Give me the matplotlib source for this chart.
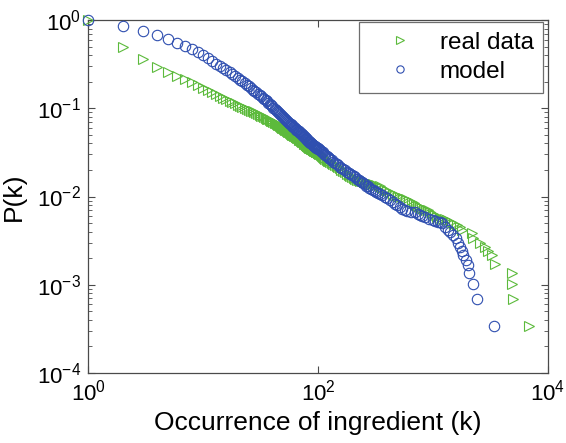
import numpy as np
import matplotlib
matplotlib.use("Agg")
import matplotlib.pyplot as plt
from matplotlib.ticker import LogLocator, NullLocator, NullFormatter

plt.rcParams['font.family'] = ['Liberation Sans', 'DejaVu Sans']
plt.rcParams['mathtext.fontset'] = 'custom'
plt.rcParams['mathtext.rm'] = 'Liberation Sans'
plt.rcParams['mathtext.it'] = 'Liberation Sans'

# real data (green triangles)
real_k = [1, 2, 3, 4, 5, 6, 7, 8, 9, 10, 11, 12, 13, 14, 15, 16, 17, 18, 19,
          20, 21, 22, 23, 24, 25, 26, 27, 28, 29, 30, 31, 32, 33, 34, 35, 36, 37, 38, 39,
          40, 41, 42, 43, 44, 45, 46, 47, 48, 49, 50, 51, 52, 53, 54, 55, 56, 57, 58, 59,
          60, 61, 62, 63, 64, 65, 66, 67, 68, 69, 70, 71, 72, 73, 74, 75, 76, 77, 78, 79,
          80, 81, 82, 83, 84, 85, 86, 87, 88, 89, 90, 91, 92, 93, 94, 95, 96, 97, 98, 99,
          100, 102, 104, 106, 108, 110, 113, 116, 119, 122, 125, 128, 132, 136, 140,
          145, 150, 155, 160, 166, 172, 178, 185, 191, 197, 204, 210, 218, 225, 232,
          240, 250, 260, 270, 280, 290, 300, 320, 346, 363, 380, 400, 423, 445, 470,
          495, 517, 545, 580, 620, 657, 685, 710, 740, 771, 805, 840, 870, 905, 945,
          990, 1040, 1084, 1140, 1200, 1260, 1324, 1420, 1520, 1610, 1717, 1787, 2183,
          2228, 2563, 2832, 3007, 3258, 3461, 4864, 4900, 4966, 6834]
real_p = [1.0, 0.50, 0.36, 0.29, 0.26, 0.235, 0.215, 0.20, 0.185, 0.17, 0.16, 0.152,
          0.145, 0.138, 0.132, 0.127, 0.122, 0.118, 0.114,
          0.110, 0.107, 0.104, 0.101, 0.099, 0.096, 0.094, 0.092, 0.090, 0.088,
          0.086, 0.0843, 0.0826, 0.081, 0.0795, 0.078, 0.0765, 0.075, 0.0735, 0.0722,
          0.071, 0.0697, 0.0685, 0.0673, 0.0661, 0.065, 0.0638, 0.0626, 0.0614, 0.0602,
          0.059, 0.058, 0.057, 0.056, 0.055, 0.054, 0.0532, 0.0524, 0.0516, 0.0508,
          0.050, 0.0494, 0.0488, 0.0482, 0.0476, 0.047, 0.0463, 0.0456, 0.0449, 0.0442,
          0.0435, 0.0428, 0.0422, 0.0416, 0.041, 0.0404, 0.0398, 0.0392, 0.0386, 0.038,
          0.0375, 0.0371, 0.0367, 0.0363, 0.0359, 0.0355, 0.0352, 0.0349, 0.0346, 0.0343,
          0.034, 0.0337, 0.0334, 0.0331, 0.0328, 0.0325, 0.0322, 0.0319, 0.0316, 0.0313,
          0.031, 0.0305, 0.030, 0.0294, 0.0288, 0.028, 0.0273, 0.0266, 0.026, 0.0254,
          0.025, 0.0245, 0.024, 0.0235, 0.023, 0.0222, 0.0215, 0.0208, 0.020, 0.0194,
          0.0188, 0.0181, 0.0175, 0.017, 0.0166, 0.0162, 0.0158, 0.0155, 0.0152, 0.015,
          0.0148, 0.0146, 0.0144, 0.0142, 0.014, 0.0138, 0.0137, 0.0135, 0.013, 0.0125,
          0.012, 0.0116, 0.0112, 0.0108, 0.0105, 0.0102, 0.0099, 0.0096, 0.0093, 0.009,
          0.0087, 0.0084, 0.0081, 0.0078, 0.0076, 0.0074, 0.0073, 0.0071, 0.007, 0.0067,
          0.0064, 0.0061, 0.0059, 0.0057, 0.0056, 0.0055, 0.0054, 0.0051, 0.0049, 0.0047,
          0.0045, 0.0042, 0.0039, 0.0034, 0.0030, 0.0027, 0.0024, 0.0022, 0.0017,
          0.00136, 0.00102, 0.00069, 0.00034]

# model (blue circles)
model_k = [1, 2, 3, 4, 5, 6, 7, 8, 9, 10, 11, 12, 13, 14, 15, 16, 17, 18, 19,
           20, 21, 22, 23, 24, 25, 26, 27, 28, 29, 30, 31, 32, 33, 34, 35, 36, 37, 38, 39,
           40, 41, 42, 43, 44, 45, 46, 47, 48, 49, 50, 51, 52, 53, 54, 55, 56, 57, 58, 59,
           60, 61, 62, 63, 64, 65, 66, 67, 68, 69, 70, 71, 72, 73, 74, 75, 76, 77, 78, 79,
           80, 81, 82, 83, 84, 85, 86, 87, 88, 89, 90, 91, 92, 93, 94, 95, 96, 97, 98, 99,
           100, 102, 104, 106, 108, 110, 113, 116, 119, 122, 125, 128, 132, 136, 140,
           145, 150, 155, 160, 166, 172, 178, 185, 191, 197, 204, 210, 218, 225, 232,
           240, 248, 255, 262, 270, 280, 290, 300, 310, 322, 335, 347, 360, 380, 400,
           425, 449, 470, 490, 515, 538, 570, 600, 650, 697, 735, 770, 810, 852, 920,
           1000, 1050, 1100, 1150, 1197, 1271, 1340, 1406, 1493, 1585, 1650, 1717, 1787,
           1823, 1936, 2015, 2054, 2228, 2414, 3390]
model_p = [1.0, 0.855, 0.75, 0.68, 0.61, 0.555, 0.51, 0.47, 0.43, 0.40, 0.37, 0.345,
           0.32, 0.30, 0.285, 0.27, 0.255, 0.243, 0.232,
           0.220, 0.211, 0.202, 0.193, 0.185, 0.177, 0.170, 0.163, 0.157, 0.151,
           0.146, 0.141, 0.137, 0.132, 0.128, 0.124, 0.120, 0.116, 0.112, 0.108,
           0.105, 0.102, 0.099, 0.096, 0.0935, 0.091, 0.0885, 0.086, 0.0837, 0.0813,
           0.079, 0.0772, 0.0754, 0.0736, 0.0718, 0.070, 0.0686, 0.0672, 0.0658, 0.0644,
           0.063, 0.0618, 0.0606, 0.0594, 0.0582, 0.057, 0.0562, 0.0554, 0.0546, 0.0538,
           0.053, 0.0521, 0.0512, 0.0503, 0.0494, 0.0485, 0.0477, 0.0469, 0.0461, 0.0453,
           0.0445, 0.0438, 0.0431, 0.0424, 0.0417, 0.041, 0.0405, 0.040, 0.0395, 0.039,
           0.0385, 0.0381, 0.0377, 0.0373, 0.0369, 0.0365, 0.0362, 0.0359, 0.0356, 0.0353,
           0.035, 0.0343, 0.0336, 0.033, 0.0323, 0.0316, 0.0306, 0.0297, 0.0288, 0.028,
           0.0272, 0.0265, 0.0257, 0.0249, 0.0242, 0.0233, 0.0225, 0.0218, 0.021, 0.0204,
           0.0198, 0.0192, 0.0187, 0.0181, 0.0176, 0.017, 0.0165, 0.016, 0.0155, 0.015,
           0.0145, 0.0141, 0.0137, 0.0133, 0.013, 0.0126, 0.0122, 0.0118, 0.0115, 0.0112,
           0.0109, 0.0106, 0.0104, 0.0099, 0.0095, 0.0091, 0.0087, 0.0083, 0.008, 0.0076,
           0.0072, 0.007, 0.0069, 0.0067, 0.0066, 0.0064, 0.0062, 0.006, 0.0059, 0.0056,
           0.0054, 0.0053, 0.0052, 0.0051, 0.005, 0.0045, 0.0042, 0.004, 0.0037, 0.0034,
           0.003, 0.0027, 0.0024, 0.0022, 0.0019, 0.00167, 0.00136, 0.00102, 0.00069,
           0.00034]

green = '#5cba3c'
blue = '#2f4fb0'
axcol = '#4a4a4a'

fig = plt.figure(figsize=(5.66, 4.43), dpi=100)
ax = fig.add_axes([0.1555, 0.158, 0.8127, 0.7968])

ax.plot(real_k, real_p, linestyle='none', marker='>', markersize=7.5,
        markerfacecolor='none', markeredgecolor=green, markeredgewidth=0.8,
        label='real data', clip_on=False, zorder=3)
ax.plot(model_k, model_p, linestyle='none', marker='o', markersize=7.5,
        markerfacecolor='none', markeredgecolor=blue, markeredgewidth=0.8,
        label='model', clip_on=False, zorder=3)

ax.set_xscale('log')
ax.set_yscale('log')
ax.set_xlim(1, 1e4)
ax.set_ylim(1e-4, 1)

ax.xaxis.set_major_locator(LogLocator(base=100))
ax.xaxis.set_minor_locator(NullLocator())
ax.yaxis.set_major_locator(LogLocator(base=10))
ax.yaxis.set_minor_locator(LogLocator(base=10, subs=np.arange(2, 10)))
ax.yaxis.set_minor_formatter(NullFormatter())

ax.tick_params(which='both', direction='in', top=True, right=True,
               colors=axcol, labelcolor='black', labelsize=16)
ax.tick_params(which='major', length=5, width=0.8, pad=5)
ax.tick_params(which='minor', length=3, width=0.6)
for s in ax.spines.values():
    s.set_color(axcol)
    s.set_linewidth(0.9)

ax.set_xlabel('Occurrence of ingredient (k)', fontsize=19, labelpad=4)
ax.set_ylabel('P(k)', fontsize=19, labelpad=8)

leg = ax.legend(loc='upper right', bbox_to_anchor=(0.99, 0.995), borderaxespad=0,
                fancybox=False, fontsize=17.5, handletextpad=0.4, borderpad=0.4,
                labelspacing=0.3, handlelength=2.5, markerscale=0.7)
leg.get_frame().set_edgecolor(axcol)
leg.get_frame().set_linewidth(0.9)

fig.savefig('out.png', dpi=100)
